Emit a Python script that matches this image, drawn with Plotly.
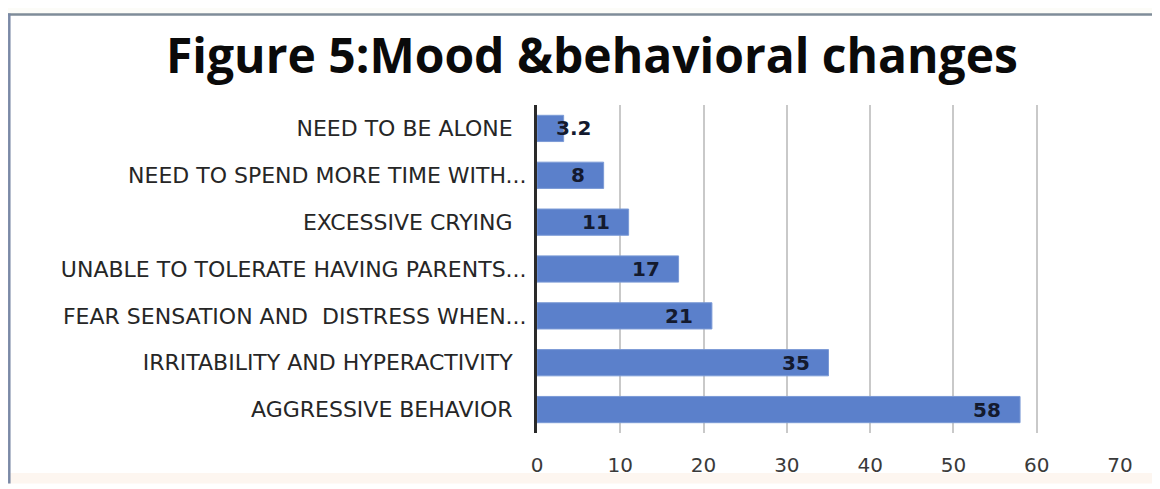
import plotly.graph_objects as go

categories = [
    "AGGRESSIVE BEHAVIOR",
    "IRRITABILITY AND HYPERACTIVITY",
    "FEAR SENSATION AND  DISTRESS WHEN...",
    "UNABLE TO TOLERATE HAVING PARENTS...",
    "EXCESSIVE CRYING",
    "NEED TO SPEND MORE TIME WITH...",
    "NEED TO BE ALONE",
]
values = [58, 35, 21, 17, 11, 8, 3.2]
x_ticks = [0, 10, 20, 30, 40, 50, 60, 70]
title_text = "Figure 5:Mood &behavioral changes"

# the page body has an 8px margin: work in window pixels, convert to figure pixels
OFF = 8
WIN_W, WIN_H = 1160, 489
W, H = WIN_W - OFF, WIN_H - OFF
L, R, T, B = 537 - OFF, 1120 - OFF, 105 - OFF, 442 - OFF  # plot area (figure px)


def px_to_paper_x(px):  # px in window coordinates
    return (px - OFF - L) / (R - L)


def px_to_paper_y(py):
    return (B - (py - OFF)) / (B - T)


# labels not truncated by Excel carry a trailing space
ticktext = [c if c.endswith("...") else c + "\u00a0\u00a0" for c in categories]

fig = go.Figure()
fig.add_trace(go.Bar(
    x=values,
    y=categories,
    orientation="h",
    marker=dict(color="#5b80cb", line=dict(color="#7b9ad6", width=1)),
    hoverinfo="x+y",
))

label_font = dict(family="DejaVu Sans", size=20, color="#141a2e")
annotations = []
for c, v in zip(categories, values):
    if v < 5:
        annotations.append(dict(x=0, y=c, xref="x", yref="y", text=f"<b>{v}</b>",
                                showarrow=False, xanchor="left", xshift=17,
                                font=label_font))
    else:
        annotations.append(dict(x=v, y=c, xref="x", yref="y", text=f"<b>{v}</b>",
                                showarrow=False, xanchor="right", xshift=-17,
                                font=label_font))

annotations.append(dict(
    x=px_to_paper_x(592), y=px_to_paper_y(53), xref="paper", yref="paper",
    text=f"<b>{title_text}</b>", showarrow=False, xanchor="center", yanchor="middle",
    font=dict(family="Open Sans", size=48, color="#0a0a0a"),
))

shapes = [
    dict(type="rect", xref="paper", yref="paper",
         x0=px_to_paper_x(-5), x1=px_to_paper_x(WIN_W + 5),
         y0=px_to_paper_y(12), y1=px_to_paper_y(-5),
         fillcolor="#fcfcf8", line=dict(width=0), layer="below"),
    dict(type="rect", xref="paper", yref="paper",
         x0=px_to_paper_x(8), x1=px_to_paper_x(WIN_W + 5),
         y0=px_to_paper_y(WIN_H + 5), y1=px_to_paper_y(483),
         fillcolor="#fdf6f0", line=dict(width=0), layer="below"),
    dict(type="line", xref="paper", yref="paper",
         x0=px_to_paper_x(8), x1=px_to_paper_x(WIN_W + 5),
         y0=px_to_paper_y(12), y1=px_to_paper_y(12),
         line=dict(color="#7f8c99", width=2.5)),
    dict(type="line", xref="paper", yref="paper",
         x0=px_to_paper_x(9.3), x1=px_to_paper_x(9.3),
         y0=px_to_paper_y(11), y1=px_to_paper_y(WIN_H + 5),
         line=dict(color="#7a89a6", width=2.5)),
]

fig.update_layout(
    width=W, height=H,
    margin=dict(l=L, r=W - R, t=T, b=H - B, pad=0),
    paper_bgcolor="white",
    plot_bgcolor="white",
    bargap=0.44,
    showlegend=False,
    annotations=annotations,
    shapes=shapes,
    xaxis=dict(
        range=[0, 70], tickvals=x_ticks, ticktext=[str(t) for t in x_ticks],
        showgrid=True, gridcolor="#c9c9c9", gridwidth=1.5,
        zeroline=False, showline=False,
        ticks="outside", ticklen=14, tickcolor="rgba(0,0,0,0)",
        tickfont=dict(family="DejaVu Sans", size=20, color="#3a3a3a"),
        fixedrange=True,
    ),
    yaxis=dict(
        categoryorder="array", categoryarray=categories,
        tickvals=categories, ticktext=ticktext,
        showline=True, linecolor="#2a2a2a", linewidth=3,
        showgrid=False, zeroline=False,
        ticks="outside", ticklen=3, tickcolor="rgba(0,0,0,0)",
        tickfont=dict(family="DejaVu Sans", size=22, color="#262626"),
        fixedrange=True,
    ),
)

fig.write_html("out.html")
